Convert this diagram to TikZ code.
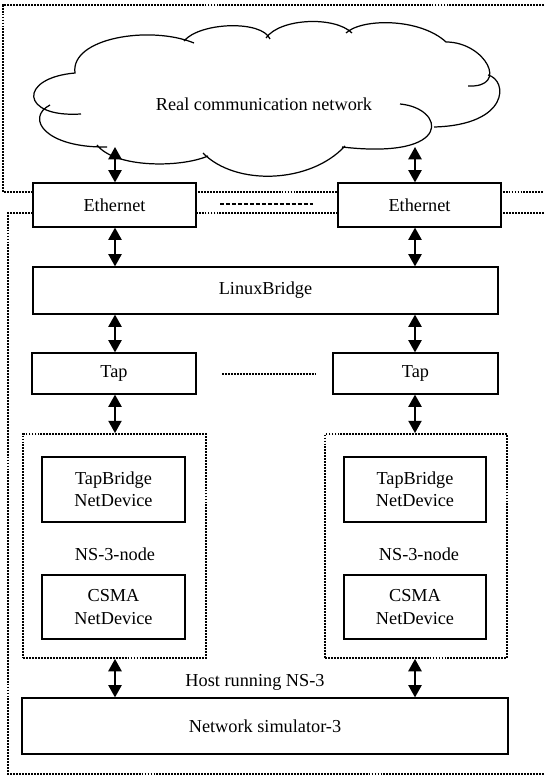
\documentclass[tikz,border=0pt]{standalone}
\usepackage{fontspec}
\setmainfont{Liberation Serif}
\usetikzlibrary{arrows.meta}

\begin{document}
\begin{tikzpicture}[x=0.02cm, y=-0.02cm,
    every node/.style={font=\fontsize{10.4}{12.6}\selectfont},
    box/.style={draw, line width=0.7pt, fill=white, align=center, inner sep=0pt},
    frame/.style={line width=1.1pt, dash pattern=on 1.1pt off 0.6pt},
    darr/.style={{Triangle[length=7pt,width=7.5pt]}-{Triangle[length=7pt,width=7.5pt]}, line width=1.1pt}]
      \useasboundingbox (0,0) rectangle (544,776);

      % dotted frames
      \draw[frame] (544,5) -- (3,5) -- (3,192) -- (544,192);
      \draw[frame] (544,213) -- (8,213) -- (8,774) -- (544,774);

      % cloud, puff by puff
      \draw[line width=0.7pt]
        (81,114) .. controls (20,118) and (18,78) .. (75,73)
                 .. controls (70,38) and (150,25) .. (194,43)
        (184,41) .. controls (200,22) and (262,20) .. (270,39)
        (266,38) .. controls (280,18) and (335,16) .. (352,33)
        (346,33) .. controls (362,18) and (420,18) .. (446,42)
                 .. controls (485,42) and (510,88) .. (468,86)
        (488,75) .. controls (508,80) and (510,125) .. (434,127)
        (400,104) .. controls (445,108) and (455,160) .. (342,147)
        (345,146) .. controls (310,184) and (235,186) .. (203,153)
        (208,156) .. controls (180,168) and (115,168) .. (97,145)
        (50,105) .. controls (25,118) and (45,148) .. (107,147);
      \node (net) at (264,104) {Real communication network};

      \node[box, minimum width=3.26cm, minimum height=0.88cm] (eth1) at (114.5,205) {Ethernet};
      \node[box, minimum width=3.26cm, minimum height=0.88cm] (eth2) at (419.5,205) {Ethernet};
      \node[box, minimum width=9.3cm, minimum height=0.94cm] (lb) at (265.5,290.5) {LinuxBridge};
      \node[box, minimum width=3.28cm, minimum height=0.82cm] (tap1) at (114,373.5) {Tap};
      \node[box, minimum width=3.3cm, minimum height=0.82cm] (tap2) at (415.5,373.5) {Tap};

      \node[frame, draw, minimum width=3.66cm, minimum height=4.48cm, inner sep=0pt] (ns1) at (114.5,546) {};
      \node[frame, draw, minimum width=3.64cm, minimum height=4.48cm, inner sep=0pt] (ns2) at (416,546) {};
      \node[box, minimum width=2.86cm, minimum height=1.3cm] (tb1) at (113.5,489.5) {TapBridge\\NetDevice};
      \node[box, minimum width=2.84cm, minimum height=1.3cm] (tb2) at (415,489.5) {TapBridge\\NetDevice};
      \node (lbl1) at (115,554) {NS-3-node};
      \node (lbl2) at (419,554) {NS-3-node};
      \node[box, minimum width=2.86cm, minimum height=1.28cm] (cs1) at (113.5,607) {CSMA\\NetDevice};
      \node[box, minimum width=2.84cm, minimum height=1.28cm] (cs2) at (415,607) {CSMA\\NetDevice};

      \node (host) at (255,682) {Host running NS-3};
      \node[box, minimum width=9.72cm, minimum height=1.12cm] (sim) at (265,726) {Network simulator-3};

      % continuation marks
      \draw[line width=0.8pt, dash pattern=on 2.3pt off 1.1pt] (220,204) -- (313,204);
      \draw[frame] (222,374) -- (315,374);

      % links
      \coordinate (colL) at (115,147);
      \coordinate (colR) at (415,147);
      \draw[darr] (colL) -- (colL |- eth1.north);
      \draw[darr] (colR) -- (colR |- eth2.north);
      \draw[darr] (colL |- eth1.south) -- (colL |- lb.north);
      \draw[darr] (colR |- eth2.south) -- (colR |- lb.north);
      \draw[darr] (colL |- lb.south) -- (colL |- tap1.north);
      \draw[darr] (colR |- lb.south) -- (colR |- tap2.north);
      \draw[darr] (colL |- tap1.south) -- (colL |- ns1.north);
      \draw[darr] (colR |- tap2.south) -- (colR |- ns2.north);
      \draw[darr] (colL |- ns1.south) -- (colL |- sim.north);
      \draw[darr] (colR |- ns2.south) -- (colR |- sim.north);
    \end{tikzpicture}
\end{document}
